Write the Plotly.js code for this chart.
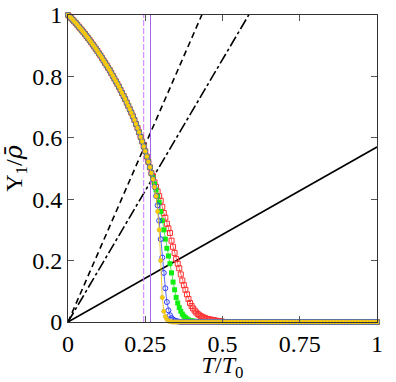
<!DOCTYPE html>
<html>
<head>
<meta charset="utf-8">
<script src="https://cdn.plot.ly/plotly-3.0.1.min.js"></script>
<style>html,body{margin:0;padding:0;background:#fff;}#chart{width:396px;height:382px;}</style>
</head>
<body>
<div id="chart"></div>
<script>
// Common low-temperature branch (all series coincide)
const T_common = [0,0.005,0.01,0.015,0.02,0.025,0.03,0.035,0.04,0.045,0.05,0.055,0.06,0.065,0.07,0.075,0.08,0.085,0.09,0.095,0.10,0.105,0.11,0.115,0.12,0.125,0.13,0.135,0.14,0.145,0.15,0.155,0.16,0.165,0.17,0.175,0.18,0.185,0.19,0.195,0.20,0.205,0.21,0.215,0.22,0.225,0.23,0.235,0.24,0.245,0.25,0.255,0.26,0.265,0.27];
const Y_common = [1.000,0.995,0.990,0.985,0.979,0.974,0.968,0.962,0.956,0.950,0.944,0.938,0.931,0.925,0.918,0.911,0.904,0.897,0.890,0.883,0.875,0.868,0.860,0.852,0.844,0.836,0.828,0.820,0.811,0.802,0.793,0.784,0.775,0.766,0.756,0.746,0.736,0.726,0.715,0.704,0.693,0.682,0.670,0.658,0.645,0.632,0.618,0.603,0.588,0.572,0.556,0.539,0.522,0.504,0.485];

// Transition region
const T_trans = [0.275,0.28,0.285,0.29,0.295,0.30,0.305,0.31,0.315,0.32,0.325,0.33,0.335,0.34,0.345,0.35,0.355,0.36,0.365,0.37,0.375,0.38,0.385,0.39,0.395,0.40,0.405,0.41,0.415,0.42,0.425,0.43,0.435,0.44,0.445,0.45,0.455,0.46,0.465,0.47,0.475,0.48,0.485,0.49,0.495,0.50];
const Y_red = [0.475,0.455,0.44,0.425,0.41,0.395,0.375,0.355,0.34,0.32,0.305,0.29,0.265,0.245,0.225,0.205,0.19,0.175,0.155,0.135,0.12,0.105,0.09,0.075,0.062,0.052,0.044,0.037,0.031,0.026,0.022,0.019,0.016,0.014,0.012,0.010,0.009,0.008,0.007,0.006,0.005,0.004,0.003,0.002,0.002,0.001];
const Y_green = [0.47,0.45,0.43,0.41,0.39,0.36,0.33,0.30,0.27,0.24,0.215,0.19,0.16,0.13,0.105,0.08,0.062,0.047,0.035,0.026,0.019,0.014,0.01,0.007,0.005,0.004,0.003,0.002,0.002,0.001,0.001,0,0,0,0,0,0,0,0,0,0,0,0,0,0,0];
const Y_blue = [0.465,0.44,0.41,0.38,0.33,0.27,0.21,0.16,0.11,0.065,0.038,0.022,0.013,0.008,0.005,0.003,0.002,0.001,0,0,0,0,0,0,0,0,0,0,0,0,0,0,0,0,0,0,0,0,0,0,0,0,0,0,0,0];
const Y_yellow = [0.465,0.44,0.41,0.36,0.30,0.20,0.08,0.035,0.018,0.009,0.004,0.002,0.001,0,0,0,0,0,0,0,0,0,0,0,0,0,0,0,0,0,0,0,0,0,0,0,0,0,0,0,0,0,0,0,0,0];

// High-temperature tail
const T_tail = [0.51,0.52,0.53,0.54,0.55,0.56,0.57,0.58,0.59,0.60,0.61,0.62,0.63,0.64,0.65,0.66,0.67,0.68,0.69,0.70,0.71,0.72,0.73,0.74,0.75,0.76,0.77,0.78,0.79,0.80,0.81,0.82,0.83,0.84,0.85,0.86,0.87,0.88,0.89,0.90,0.91,0.92,0.93,0.94,0.95,0.96,0.97,0.98,0.99,1.00];
const Y_tail = [0,0,0,0,0,0,0,0,0,0,0,0,0,0,0,0,0,0,0,0,0,0,0,0,0,0,0,0,0,0,0,0,0,0,0,0,0,0,0,0,0,0,0,0,0,0,0,0,0,0];

// Reference straight lines through the origin
const refX = [0, 1];
const solidY = [0, 0.57];
const dashedY = [0, 2.31];
const dashdotY = [0, 1.71];

// Vertical marker lines
const vDashedX = [0.245, 0.245];
const vSolidX = [0.267, 0.267];
const vY = [0, 1];

// Tick labels
const xTicks = [0, 0.25, 0.5, 0.75, 1];
const xTickText = ['0', '0.25', '0.5', '0.75', '1'];
const yTicks = [0, 0.2, 0.4, 0.6, 0.8, 1];
const yTickText = ['0', '0.2', '0.4', '0.6', '0.8', '1'];

const Tall = T_common.concat(T_trans, T_tail);
function series(Ytr){ return Y_common.concat(Ytr, Y_tail); }

const FONT = '"Liberation Serif", "DejaVu Serif", serif';

const traces = [
  {x: refX, y: solidY, mode:'lines', line:{color:'#000', width:1.6}},
  {x: refX, y: dashedY, mode:'lines', line:{color:'#000', width:1.6, dash:'6px,4px'}},
  {x: refX, y: dashdotY, mode:'lines', line:{color:'#000', width:1.6, dash:'11px,3px,3px,3px'}},
  {x: vDashedX, y: vY, mode:'lines', line:{color:'#cc77ff', width:1, dash:'6px,2px'}},
  {x: vSolidX, y: vY, mode:'lines', line:{color:'#a466e8', width:1}},
  {x: Tall, y: series(Y_red), mode:'lines+markers', cliponaxis:false,
   line:{color:'#ff4040', width:0.8}, marker:{symbol:'square-open', size:5, color:'#ff3030', line:{width:1}}},
  {x: Tall, y: series(Y_green), mode:'lines+markers', cliponaxis:false,
   line:{color:'#33dd33', width:0.8}, marker:{symbol:'square', size:5, color:'#11ee11'}},
  {x: Tall, y: series(Y_blue), mode:'lines+markers', cliponaxis:false,
   line:{color:'#3344ff', width:0.8}, marker:{symbol:'circle-open', size:5, color:'#2f3fff', line:{width:1}}},
  {x: Tall, y: series(Y_yellow), mode:'lines+markers', cliponaxis:false,
   line:{color:'#f0c000', width:0.8}, marker:{symbol:'circle', size:4.5, color:'#ffcc00', line:{width:0.4, color:'#b8a860'}}}
];

const layout = {
  width:396, height:382,
  margin:{l:68, r:19, t:15, b:60},
  paper_bgcolor:'#fff', plot_bgcolor:'#fff',
  font:{family:FONT, size:24, color:'#000'},
  showlegend:false,
  xaxis: {
    range:[0,1], showgrid:false, zeroline:false, showline:true, linecolor:'#333', linewidth:1,
    mirror:'ticks', ticks:'inside', ticklen:6, tickcolor:'#555', tickwidth:1,
    tickmode:'array', tickvals:xTicks, ticktext:xTickText,
    tickfont:{family:FONT, size:24, color:'#000'},
    title:{text:'<i>T</i>/<i>T</i><sub>0</sub>', font:{family:FONT, size:24, color:'#000'}, standoff:4}
  },
  yaxis: {
    range:[0,1], showgrid:false, zeroline:false, showline:true, linecolor:'#333', linewidth:1,
    mirror:'ticks', ticks:'inside', ticklen:6, tickcolor:'#555', tickwidth:1,
    tickmode:'array', tickvals:yTicks, ticktext:yTickText,
    tickfont:{family:FONT, size:24, color:'#000'},
    title:{text:'Υ<sub>1</sub>/<span style="font-family:DejaVu Serif"><i>ρ̄</i></span>', font:{family:FONT, size:24, color:'#000'}, standoff:6}
  }
};

Plotly.newPlot('chart', traces, layout, {displayModeBar:false, staticPlot:true});
</script>
</body>
</html>
